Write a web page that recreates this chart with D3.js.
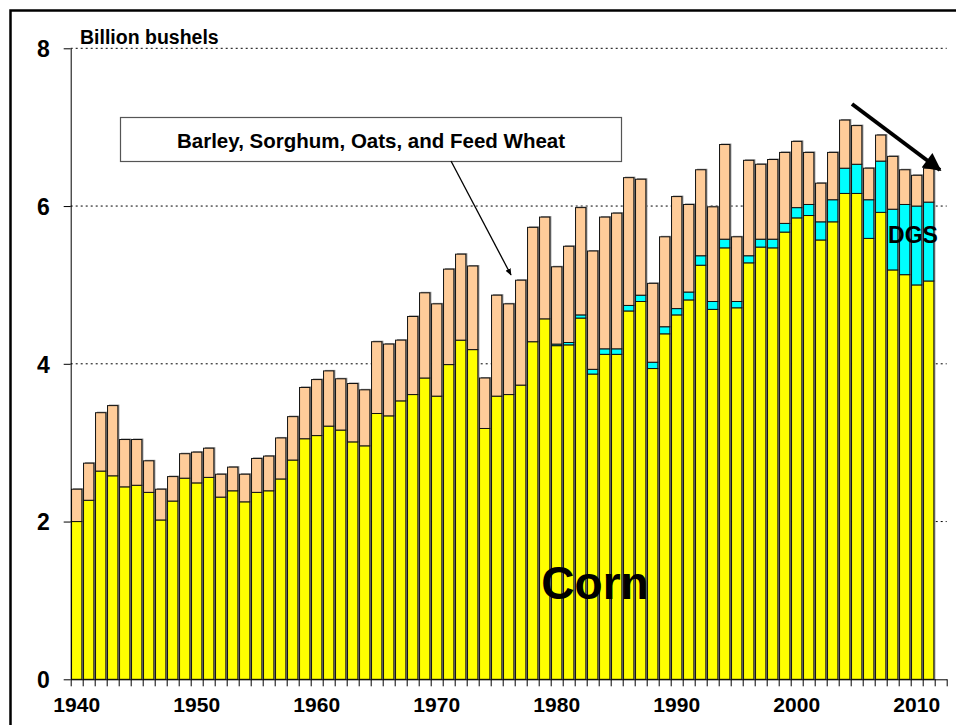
<!DOCTYPE html>
<html>
<head>
<meta charset="utf-8">
<script src="https://cdn.jsdelivr.net/npm/d3@7"></script>
<style>
  body { margin: 0; background: #fff; }
  svg { display: block; font-family: Arial, "Liberation Sans", sans-serif; font-weight: bold; }
  .axis text { font-family: Arial, "Liberation Sans", sans-serif; font-weight: bold; fill: #000; }
  .axis path, .axis line { stroke: #000; }
</style>
</head>
<body>
<div id="chart"></div>
<script>
// years with data (2012 slot is left empty on the axis)
const years = d3.range(1940, 2012);
const axisYears = d3.range(1940, 2013);
const yTicks = [0, 2, 4, 6, 8];
const xLabels = [1940, 1950, 1960, 1970, 1980, 1990, 2000, 2010];

// corn used for feed, billion bushels
const corn = [2.00, 2.27, 2.64, 2.58, 2.44, 2.46, 2.37, 2.02, 2.26, 2.55,
  2.49, 2.56, 2.31, 2.39, 2.25, 2.37, 2.39, 2.54, 2.78, 3.05,
  3.09, 3.21, 3.16, 3.01, 2.96, 3.37, 3.34, 3.53, 3.61, 3.82,
  3.59, 3.99, 4.30, 4.18, 3.18, 3.59, 3.61, 3.73, 4.28, 4.57,
  4.23, 4.24, 4.58, 3.87, 4.12, 4.12, 4.67, 4.79, 3.94, 4.38,
  4.62, 4.81, 5.25, 4.69, 5.47, 4.71, 5.28, 5.48, 5.47, 5.67,
  5.85, 5.88, 5.57, 5.80, 6.16, 6.16, 5.59, 5.92, 5.19, 5.13,
  5.00, 5.05];
// distillers grains (corn equivalent)
const dgs = [0, 0, 0, 0, 0, 0, 0, 0, 0, 0,
  0, 0, 0, 0, 0, 0, 0, 0, 0, 0,
  0, 0, 0, 0, 0, 0, 0, 0, 0, 0,
  0, 0, 0, 0, 0, 0, 0, 0, 0, 0,
  0.02, 0.03, 0.04, 0.06, 0.07, 0.07, 0.07, 0.08, 0.08, 0.09,
  0.08, 0.10, 0.12, 0.10, 0.11, 0.08, 0.09, 0.10, 0.11, 0.11,
  0.13, 0.14, 0.23, 0.28, 0.32, 0.37, 0.49, 0.65, 0.77, 0.89,
  1.00, 1.00];
// barley, sorghum, oats and feed wheat
const otherGrains = [0.41, 0.47, 0.74, 0.89, 0.60, 0.58, 0.40, 0.39, 0.31, 0.31,
  0.39, 0.37, 0.29, 0.30, 0.35, 0.43, 0.44, 0.52, 0.55, 0.65,
  0.71, 0.70, 0.65, 0.74, 0.71, 0.91, 0.91, 0.77, 0.99, 1.08,
  1.17, 1.21, 1.09, 1.06, 0.64, 1.28, 1.15, 1.33, 1.45, 1.29,
  0.98, 1.22, 1.36, 1.50, 1.67, 1.72, 1.62, 1.47, 1.00, 1.14,
  1.42, 1.11, 1.09, 1.20, 1.20, 0.82, 1.21, 0.95, 1.01, 0.90,
  0.84, 0.66, 0.49, 0.60, 0.61, 0.49, 0.40, 0.33, 0.67, 0.44,
  0.39, 0.43];

const width = 956, height = 725;
const margin = {top: 48.3, right: 9.3, bottom: 45.7, left: 70.7};
const innerWidth = width - margin.left - margin.right;
const innerHeight = height - margin.top - margin.bottom;

const colors = {corn: "#FFFF00", dgs: "#00FFFF", other: "#FFCC99"};

const svg = d3.select("#chart")
  .append("svg")
  .attr("width", width)
  .attr("height", height);

//outer frame, cut off on the right and bottom like the picture
svg.append("rect")
  .attr("x", 10.5).attr("y", 10.5)
  .attr("width", 980).attr("height", 760)
  .attr("fill", "none")
  .attr("stroke", "#000")
  .attr("stroke-width", 2.5);

const innerChart = svg.append("g")
  .attr("transform", `translate(${margin.left}, ${margin.top})`);

const xScale = d3.scaleBand()
  .domain(axisYears)
  .range([0, innerWidth])
  .paddingInner(0.14)
  .paddingOuter(0.07);
const xEdge = d3.scaleLinear()
  .domain([1940, 2013])
  .range([0, innerWidth]);
const yScale = d3.scaleLinear()
  .domain([0, 8])
  .range([innerHeight, 0]);

//gridlines
innerChart.selectAll(".grid")
  .data(yTicks.filter(d => d > 0))
  .join("line")
    .attr("class", "grid")
    .attr("x1", 0)
    .attr("x2", innerWidth)
    .attr("y1", d => yScale(d))
    .attr("y2", d => yScale(d))
    .attr("stroke", "#000")
    .attr("stroke-width", 1)
    .attr("stroke-dasharray", "2,3");

//stack the three series
const table = years.map((yr, i) => ({year: yr, corn: corn[i], dgs: dgs[i], other: otherGrains[i]}));
const stacked = d3.stack().keys(["corn", "dgs", "other"])(table);

//shadow behind each bar
innerChart.selectAll(".shadow")
  .data(table)
  .join("rect")
    .attr("class", "shadow")
    .attr("x", d => xScale(d.year) + 1.5)
    .attr("y", d => yScale(d.corn + d.dgs + d.other) - 1)
    .attr("width", xScale.bandwidth())
    .attr("height", d => innerHeight - yScale(d.corn + d.dgs + d.other) + 1)
    .attr("fill", "#8a8a8a");

innerChart.selectAll(".series")
  .data(stacked)
  .join("g")
    .attr("class", "series")
    .attr("fill", d => colors[d.key])
  .selectAll("rect")
  .data(d => d.filter(s => s[1] - s[0] > 0))
  .join("rect")
    .attr("x", d => xScale(d.data.year))
    .attr("y", d => yScale(d[1]))
    .attr("width", xScale.bandwidth())
    .attr("height", d => yScale(d[0]) - yScale(d[1]))
    .attr("stroke", "#111")
    .attr("stroke-width", 1);

//x axis: ticks at every year boundary
const tickAxis = innerChart.append("g")
  .attr("class", "axis")
  .attr("transform", `translate(0, ${innerHeight})`)
  .call(d3.axisBottom(xEdge).tickValues(d3.range(1940, 2014)).tickFormat("").tickSize(7).tickSizeOuter(0));
tickAxis.selectAll("text").remove(); //only the tick marks are wanted here
//x labels centred on the bars
const xLabelAxis = innerChart.append("g")
  .attr("class", "axis")
  .attr("transform", `translate(0, ${innerHeight})`)
  .call(d3.axisBottom(xScale).tickValues(xLabels).tickSize(0).tickPadding(18))
  .attr("font-family", null);
xLabelAxis.select(".domain").remove();
xLabelAxis.selectAll("text").style("font-size", "21px");

//y axis
const leftAxis = innerChart.append("g")
  .attr("class", "axis")
  .call(d3.axisLeft(yScale).tickValues(yTicks).tickSize(7).tickSizeOuter(0).tickPadding(14))
  .attr("font-family", null);
leftAxis.selectAll("text").style("font-size", "23px").attr("dy", "0.36em");

svg.append("text")
  .text("Billion bushels")
  .attr("x", 80)
  .attr("y", 44)
  .style("font-size", "19.5px");

//annotation box for the other feed grains
svg.append("rect")
  .attr("x", 120.5).attr("y", 117.5)
  .attr("width", 501).attr("height", 44)
  .attr("fill", "#fff")
  .attr("stroke", "#555")
  .attr("stroke-width", 1.2);
svg.append("text")
  .text("Barley, Sorghum, Oats, and Feed Wheat")
  .attr("x", 371)
  .attr("y", 148)
  .attr("text-anchor", "middle")
  .style("font-size", "20.5px");

const defs = svg.append("defs");
defs.append("marker")
  .attr("id", "smallHead")
  .attr("viewBox", "0 0 10 10")
  .attr("refX", 9).attr("refY", 5)
  .attr("markerWidth", 7).attr("markerHeight", 7)
  .attr("markerUnits", "userSpaceOnUse")
  .attr("orient", "auto")
  .append("path").attr("d", "M0,1 L10,5 L0,9 Z").attr("fill", "#000");
defs.append("marker")
  .attr("id", "bigHead")
  .attr("viewBox", "0 0 10 10")
  .attr("refX", 9).attr("refY", 5)
  .attr("markerWidth", 22).attr("markerHeight", 18)
  .attr("markerUnits", "userSpaceOnUse")
  .attr("orient", "auto")
  .append("path").attr("d", "M0,0 L10,5 L0,10 Z").attr("fill", "#000");

svg.append("line")
  .attr("x1", 451).attr("y1", 161)
  .attr("x2", 511).attr("y2", 275)
  .attr("stroke", "#000")
  .attr("stroke-width", 1.3)
  .attr("marker-end", "url(#smallHead)");

svg.append("line")
  .attr("x1", 852).attr("y1", 104)
  .attr("x2", 940).attr("y2", 170)
  .attr("stroke", "#000")
  .attr("stroke-width", 4)
  .attr("marker-end", "url(#bigHead)");

svg.append("text")
  .text("DGS")
  .attr("x", 913)
  .attr("y", 243)
  .attr("text-anchor", "middle")
  .style("font-size", "23px");

svg.append("text")
  .text("Corn")
  .attr("x", 595)
  .attr("y", 599)
  .attr("text-anchor", "middle")
  .style("font-size", "46px");
</script>
</body>
</html>
